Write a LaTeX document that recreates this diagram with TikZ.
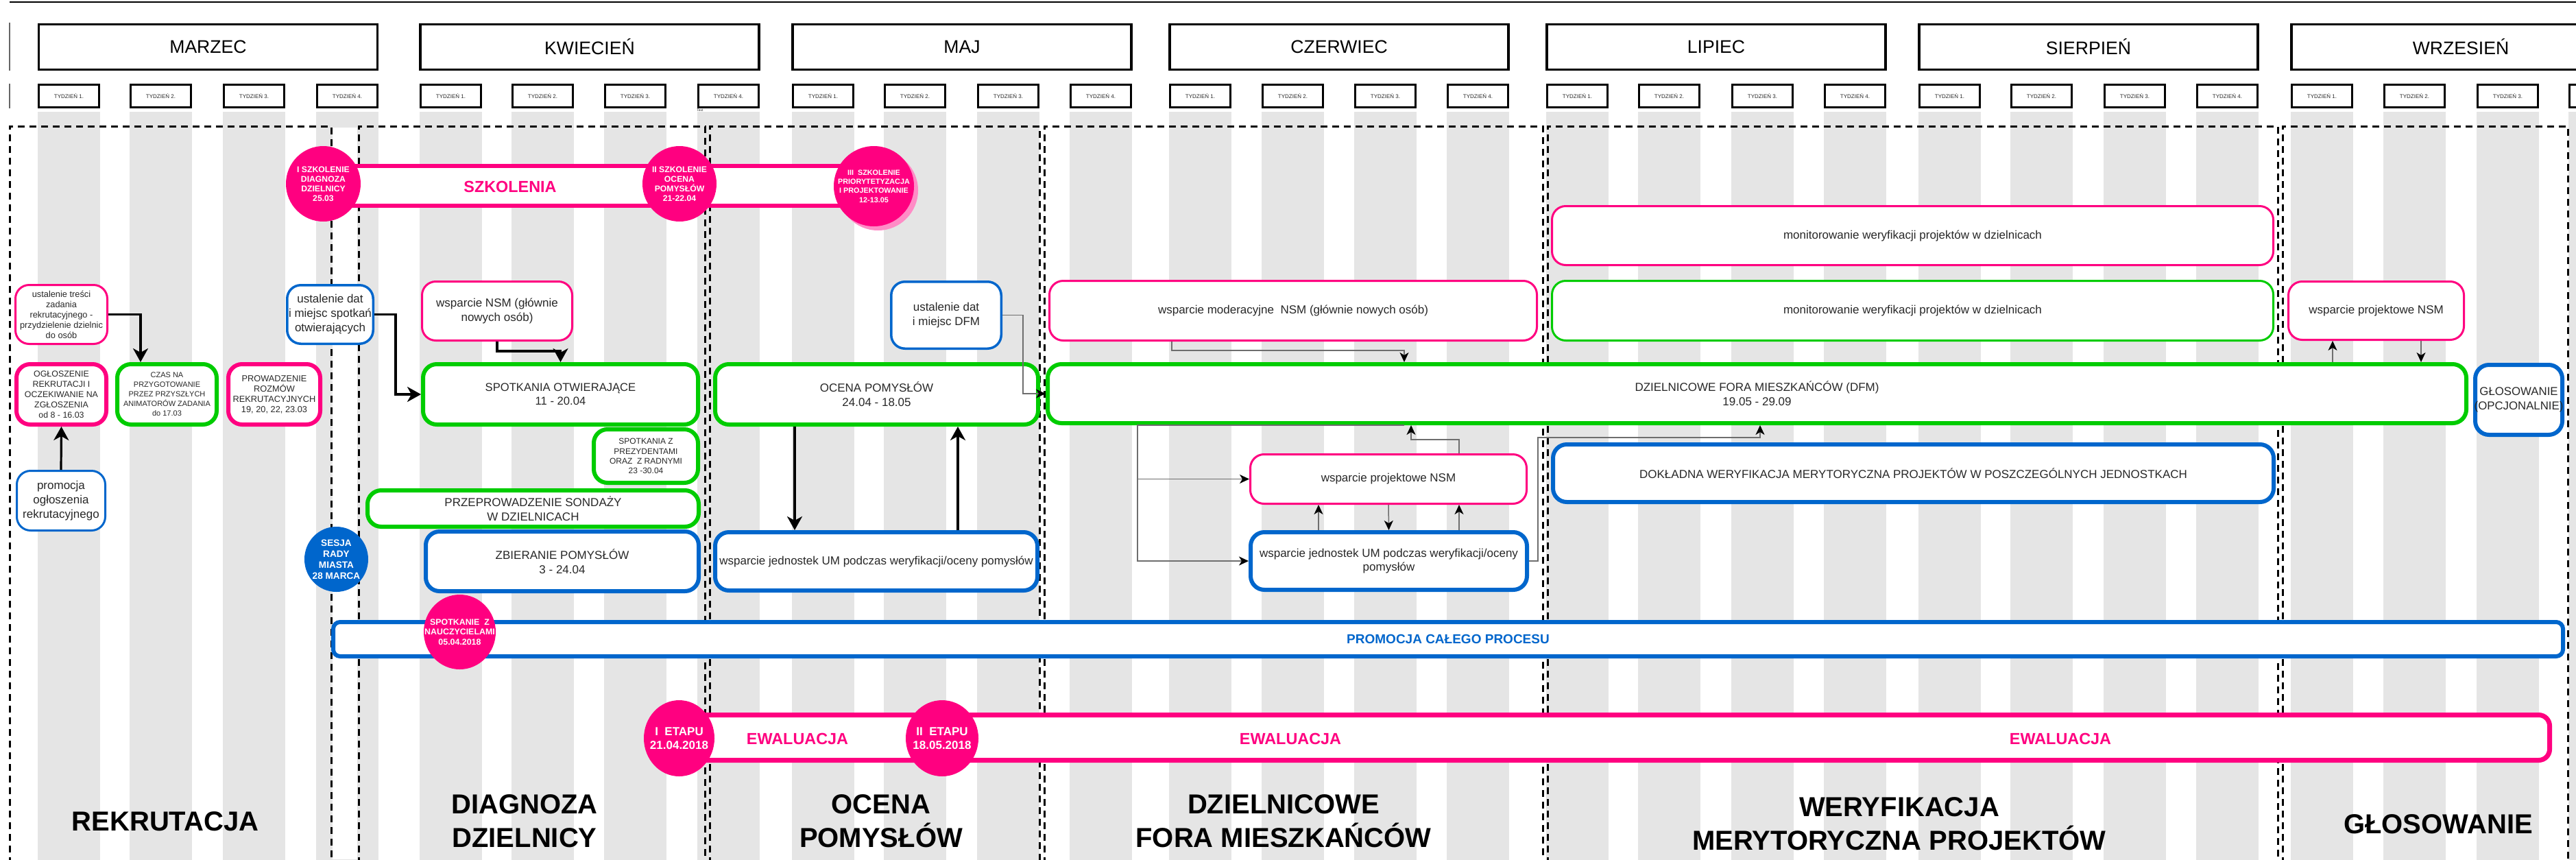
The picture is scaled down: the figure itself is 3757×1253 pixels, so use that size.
\documentclass[tikz,border=0pt]{standalone}
\usepackage{fontspec}
\setmainfont{Liberation Sans}
\usetikzlibrary{shapes.geometric,arrows.meta,calc}
\definecolor{pk}{RGB}{255,0,128}
\definecolor{gr}{RGB}{0,204,0}
\definecolor{bl}{RGB}{0,102,204}
\definecolor{stripe}{RGB}{229,229,229}
\definecolor{txt}{RGB}{40,40,40}
\definecolor{conn}{RGB}{110,110,110}
\newcommand{\fsz}[2]{\fontsize{#1}{#2}\selectfont}
% #1 name, #2 style, #3 line width (px), #4 x1, #5 y1, #6 x2, #7 y2, #8 text
\newcommand{\drbox}[8]{%
 \pgfmathsetmacro{\bxcx}{(#4+#6)/2}%
 \pgfmathsetmacro{\bxcy}{(#5+#7)/2}%
 \pgfmathsetmacro{\bxw}{(#6-#4-#3)*0.5}%
 \pgfmathsetmacro{\bxh}{(#7-#5-#3)*0.5}%
 \node[#2, minimum width=\bxw pt, minimum height=\bxh pt] (#1) at (\bxcx,\bxcy) {#8};}
\tikzset{
 bxbase/.style={draw, fill=white, align=center, inner sep=1pt, rounded corners=10pt, text=txt},
 thinbx/.style={bxbase, line width=1.5pt},
 thickbx/.style={bxbase, line width=3pt},
 fA/.style={font=\fsz{8.5}{10.3}},
 fS/.style={font=\fsz{6.4}{7.5}},
 month/.style={draw=black, line width=1.6pt, fill=white, minimum width=247pt, minimum height=33pt, font=\fsz{13.3}{16}, text=black},
 week/.style={draw=black, line width=1.6pt, fill=white, minimum width=44pt, minimum height=16.5pt, font=\fsz{4}{5}, inner sep=0pt, text=txt},
 phase/.style={draw=black, line width=1.5pt, dash pattern=on 5pt off 3.5pt},
 ell/.style={ellipse, inner sep=-20pt, align=center, text=white},
 title/.style={font=\bfseries\fsz{20}{24.5}, text=black, align=center},
 pinklab/.style={font=\bfseries\fsz{11.7}{14}, text=pk},
 bigarrow/.style={draw=black, line width=1.6pt, -{Stealth[length=10pt,width=11pt,inset=3pt]}},
 smallarrow/.style={draw=conn, line width=0.75pt, -{Stealth[length=7pt,width=6.5pt,inset=2pt,color=black]}},
}
\begin{document}
\begin{tikzpicture}[x=0.5pt,y=-0.5pt]
\useasboundingbox (0,0) rectangle (3757,1253);
\clip (0,0) rectangle (3757,1253);
\fill[white] (0,0) rectangle (3757,1253);

% stripes
\foreach \x in {55,189,325,461,612,746,881,1017,1155,1289,1425,1560,1705,1840,1975,2110,2255,2389,2525,2660,2798,2932,3068,3203,3341,3476,3612,3746}
  \fill[stripe] (\x,163) rectangle ++(91,1100);
\fill[white] (485,186) rectangle (521,1253);

% phases
\draw[phase] (14,1260) |- (483,184) -- (483,1260);
\draw[phase] (523,1260) |- (1028,184) -- (1028,1260);
\draw[phase] (1035,1260) |- (1516,184) -- (1516,1260);
\draw[phase] (1523,1260) |- (2250,184) -- (2250,1260);
\draw[phase] (2257,1260) |- (3322,184) -- (3322,1260);
\draw[phase] (3329,1260) |- (3745,184) -- (3745,1260);

% header
\draw[line width=1.3pt] (14,3) -- (3757,3);
\draw[line width=0.6pt, black!60] (14,33) -- (14,103) (14,122) -- (14,158);
\foreach \c/\m [count=\i] in {303.5/MARZEC,860/KWIECIEŃ,1403/MAJ,1953/CZERWIEC,2503/LIPIEC,3046/SIERPIEŃ,3589/WRZESIEŃ}
  \node[month] (mo\i) at (\c,68.5) {\m};
\foreach \x/\n [count=\i] in {55/1,189/2,325/3,461/4,612/1,746/2,881/3,1017/4,1155/1,1289/2,1425/3,1560/4,1705/1,1840/2,1975/3,2110/4,2255/1,2389/2,2525/3,2660/4,2798/1,2932/2,3068/3,3203/4,3341/1,3476/2,3612/3,3746/4}
  \node[week] (wk\i) at (\x+45.5,140) {TYDZIEŃ \n.};
\node[font=\fsz{2.5}{3}, text=txt, inner sep=0pt] (tinytext) at (1021,161) {Text};

% bars
\drbox{szbar}{draw=pk, line width=3pt, fill=white}{6}{470}{239}{1272}{303}{}
\drbox{ewbar}{draw=pk, line width=3.5pt, fill=white, rounded corners=8pt}{7}{990}{1039}{3722}{1112}{}
\drbox{promoAll}{thickbx,draw=bl,rounded corners=5pt,font=\bfseries\fsz{9.5}{11},text=bl}{6}{483}{904}{3741}{960}{PROMOCJA CAŁEGO PROCESU}

% boxes - rekrutacja
\drbox{ustT}{thinbx,draw=pk,fS}{3}{21}{414}{158}{503}{ustalenie treści\\zadania\\rekrutacyjnego -\\przydzielenie dzielnic\\do osób}
\drbox{oglo}{thickbx,draw=pk,font=\fsz{6.2}{7.5}}{6}{21}{528}{158}{622}{OGŁOSZENIE\\REKRUTACJI I\\OCZEKIWANIE NA\\ZGŁOSZENIA\\od 8 - 16.03}
\drbox{czas}{thickbx,draw=gr,font=\fsz{5.5}{7}}{6}{168}{528}{319}{622}{CZAS NA\\PRZYGOTOWANIE\\PRZEZ PRZYSZŁYCH\\ANIMATORÓW ZADANIA\\do 17.03}
\drbox{prow}{thickbx,draw=pk,fS}{6}{330}{528}{470}{622}{PROWADZENIE\\ROZMÓW\\REKRUTACYJNYCH\\19, 20, 22, 23.03}
\drbox{promo}{thinbx,draw=bl,fA}{3}{23}{685}{155}{775}{promocja\\ogłoszenia\\rekrutacyjnego}

% diagnoza
\drbox{ustD}{thinbx,draw=bl,line width=1.75pt,font=\fsz{8.5}{10.5}}{3.5}{417}{414}{546}{503}{ustalenie dat\\i miejsc spotkań\\otwierających}
\drbox{wspN}{thinbx,draw=pk,font=\fsz{8.5}{10.5}}{3}{614}{409}{836}{498}{wsparcie NSM (głównie\\nowych osób)}
\drbox{spot}{thickbx,draw=gr,font=\fsz{8.3}{10}}{6}{614}{528}{1021}{622}{SPOTKANIA OTWIERAJĄCE\\11 - 20.04}
\drbox{prez}{thickbx,draw=gr,font=\fsz{6}{7.1}}{6}{863}{623}{1021}{707}{SPOTKANIA Z\\PREZYDENTAMI\\ORAZ~ Z RADNYMI\\23 -30.04}
\drbox{sond}{thickbx,draw=gr,fA}{6}{533}{712}{1022}{771}{PRZEPROWADZENIE SONDAŻY\\W DZIELNICACH}
\drbox{zbier}{thickbx,draw=bl,fA}{6}{618}{772}{1022}{865}{ZBIERANIE POMYSŁÓW\\3 - 24.04}

% ocena
\drbox{ocena}{thickbx,draw=gr,fA}{6}{1040}{528}{1517}{622}{OCENA POMYSŁÓW\\24.04 - 18.05}
\drbox{jedMaj}{thickbx,draw=bl,fA}{6}{1040}{773}{1516}{864}{wsparcie jednostek UM podczas weryfikacji/oceny pomysłów}
\drbox{ustDFM}{thinbx,draw=bl,line width=1.75pt,fA}{3.5}{1298}{409}{1462}{510}{ustalenie dat\\i miejsc DFM}

% DFM
\drbox{wspMod}{thinbx,draw=pk,fA}{3}{1529}{408}{2243}{498}{wsparcie moderacyjne~ NSM (głównie nowych osób)}
\drbox{dfm}{thickbx,draw=gr,font=\fsz{8.5}{10.5}}{6}{1525}{528}{3600}{620}{DZIELNICOWE FORA MIESZKAŃCÓW (DFM)\\19.05 - 29.09}
\drbox{wspProj}{thinbx,draw=pk,fA}{3}{1822}{661}{2228}{736}{wsparcie projektowe NSM}
\drbox{jedCz}{thickbx,draw=bl,fA}{6}{1821}{773}{2230}{863}{wsparcie jednostek UM podczas weryfikacji/oceny\\pomysłów}

% weryfikacja
\drbox{monP}{thinbx,draw=pk,fA}{3}{2262}{299}{3317}{388}{monitorowanie weryfikacji projektów w dzielnicach}
\drbox{monG}{thinbx,draw=gr,fA}{3}{2262}{408}{3317}{498}{monitorowanie weryfikacji projektów w dzielnicach}
\drbox{dokl}{thickbx,draw=bl,fA}{6}{2262}{645}{3319}{735}{DOKŁADNA WERYFIKACJA MERYTORYCZNA PROJEKTÓW W POSZCZEGÓLNYCH JEDNOSTKACH}

% glosowanie
\drbox{wspProj2}{thinbx,draw=pk,fA}{3}{3336}{409}{3595}{497}{wsparcie projektowe NSM}
\drbox{glos}{thickbx,draw=bl,font=\fsz{8.4}{10.5},inner xsep=-3pt}{6}{3607}{529}{3740}{637}{GŁOSOWANIE\\(OPCJONALNIE)}

% ellipses
\node[ell, fill=pk, minimum width=54.5pt, minimum height=55pt, font=\bfseries\fsz{6.1}{7}] (sz1) at (471.5,268) {I SZKOLENIE\\DIAGNOZA\\DZIELNICY\\25.03};
\node[ell, fill=pk, minimum width=54pt, minimum height=55pt, font=\bfseries\fsz{6.1}{7}] (sz2) at (991,268) {II SZKOLENIE\\OCENA\\POMYSŁÓW\\21-22.04};
\node[ell, fill=pk!45, minimum width=58.5pt, minimum height=58.5pt] (sz3s) at (1280.5,277.5) {};
\node[ell, fill=pk, minimum width=58.5pt, minimum height=58.5pt, font=\bfseries\fsz{5.4}{6.6}] (sz3) at (1274.5,271.5) {III~ SZKOLENIE\\PRIORYTETYZACJA\\I PROJEKTOWANIE\\12-13.05};
\node[ell, fill=bl, minimum width=46.5pt, minimum height=47.5pt, font=\bfseries\fsz{6.8}{8}] (sesja) at (490.5,815.5) {SESJA\\RADY\\MIASTA\\28 MARCA};
\node[ell, fill=pk, minimum width=52.5pt, minimum height=54.5pt, font=\bfseries\fsz{6.2}{7.3}] (naucz) at (670.5,921.5) {SPOTKANIE~ Z\\NAUCZYCIELAMI\\05.04.2018};
\node[ell, fill=pk, minimum width=51.5pt, minimum height=55.5pt, font=\bfseries\fsz{8.5}{10}] (et1) at (990.5,1076.5) {I~ ETAPU\\21.04.2018};
\node[ell, fill=pk, minimum width=53pt, minimum height=55.5pt, font=\bfseries\fsz{8.5}{10}] (et2) at (1374,1076.5) {II~ ETAPU\\18.05.2018};

% pink labels
\node[pinklab] (lSz) at (744,272) {SZKOLENIA};
\node[pinklab] (lEw1) at (1163,1077) {EWALUACJA};
\node[pinklab] (lEw2) at (1882,1077) {EWALUACJA};
\node[pinklab] (lEw3) at (3005,1077) {EWALUACJA};

% phase titles
\node[title] (tRek) at (241,1198) {REKRUTACJA};
\node[title] (tDiag) at (765,1197) {DIAGNOZA\\DZIELNICY};
\node[title] (tOcena) at (1285,1197) {OCENA\\POMYSŁÓW};
\node[title] (tDfm) at (1872,1197) {DZIELNICOWE\\FORA MIESZKAŃCÓW};
\node[title] (tWer) at (2770,1201) {WERYFIKACJA\\MERYTORYCZNA PROJEKTÓW};
\node[title] (tGlos) at (3556,1202) {GŁOSOWANIE};

% connectors (thick)
\draw[bigarrow] (ustT.east) -| ([xshift=-19.25pt]czas.north);
\draw[bigarrow] (promo.north) -- (oglo.south);
\draw[bigarrow] (ustD.east) -- ++(31,0) |- (spot.west);
\draw[bigarrow] (wspN.south) -- ++(0,14) -| (spot.north);
\draw[bigarrow] ([xshift=-59.75pt]ocena.south) -- ([xshift=-59.5pt]jedMaj.north);
\draw[bigarrow] ([xshift=59.5pt]jedMaj.north) -- ([xshift=59.25pt]ocena.south);

% connectors (thin)
\coordinate (brx) at (1659,700);
\draw[smallarrow] (ustDFM.east) -- ++(30,0) |- (dfm.west);
\draw[smallarrow] ([xshift=-88.5pt]wspMod.south) -- ++(0,13) -| ([xshift=-257.25pt]dfm.north);
\draw[smallarrow] ([xshift=-257.25pt]dfm.south) -| (brx |- jedCz.west) -- (jedCz.west);
\draw[smallarrow] (brx |- wspProj.west) -- (wspProj.west);
\draw[smallarrow] ([xshift=51.5pt]wspProj.north) -- ++(0,-20) -| ([xshift=-252.25pt]dfm.south);
\draw[smallarrow] ([xshift=-51.25pt]jedCz.north) -- ([xshift=-51pt]wspProj.south);
\draw[smallarrow] (wspProj.south) -- (jedCz.north);
\draw[smallarrow] ([xshift=51.25pt]jedCz.north) -- ([xshift=51.5pt]wspProj.south);
\draw[smallarrow] (jedCz.east) -- ++(13,0) -- ++(0,-180) -| ([xshift=2.25pt]dfm.south);
\draw[smallarrow] ([xshift=419.75pt]dfm.north) -- ([xshift=-31.75pt]wspProj2.south);
\draw[smallarrow] ([xshift=32.75pt]wspProj2.south) -- ([xshift=484.25pt]dfm.north);
\end{tikzpicture}
\end{document}
